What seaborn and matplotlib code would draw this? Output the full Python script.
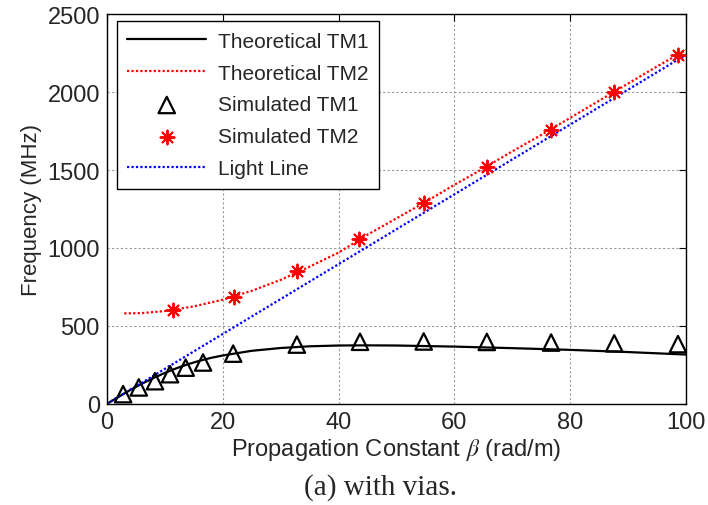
import matplotlib
matplotlib.use("Agg")
import matplotlib.pyplot as plt
import numpy as np
import pandas as pd
import seaborn as sns

# theoretical TM1
tm1_beta = [0, 2, 4, 6, 8, 10, 12, 14, 16, 18, 20, 25, 30, 35, 40, 45, 50, 60, 70, 80, 90, 100]
tm1_freq = [0, 44, 88, 128, 165, 198, 228, 254, 276, 295, 310, 340, 358, 369, 374, 375, 374, 367, 357, 346, 332, 316]

# theoretical TM2
tm2_beta = [3, 6, 10, 15, 20, 25, 30, 35, 40, 45, 50, 55, 60, 65, 70, 75, 80, 85, 90, 95, 100]
tm2_freq = [580, 582, 595, 625, 668, 725, 795, 880, 970, 1085, 1190, 1295, 1405, 1510, 1620, 1725, 1835, 1945, 2055, 2165, 2270]

# simulated points
sim1_beta = [2.8, 5.5, 8.3, 10.9, 13.6, 16.6, 21.8, 32.8, 43.7, 54.7, 65.6, 76.7, 87.6, 98.6]
sim1_freq = [62, 105, 145, 190, 232, 265, 322, 380, 398, 400, 397, 393, 388, 383]

sim2_beta = [11.4, 22.0, 32.8, 43.5, 54.7, 65.6, 76.7, 87.6, 98.6]
sim2_freq = [600, 684, 853, 1058, 1288, 1519, 1756, 2000, 2237]

light_beta = [0, 100]
light_freq = [0, 2240]

sns.set_style("white")
plt.rcParams["font.family"] = ["Liberation Sans", "DejaVu Sans"]
plt.rcParams["mathtext.fontset"] = "stix"

fig = plt.figure(figsize=(7.08, 5.06), dpi=100)
ax = fig.add_axes([0.151, 0.200, 0.818, 0.770])

sns.lineplot(x=tm1_beta, y=tm1_freq, ax=ax, color="black", linewidth=1.6,
             label="Theoretical TM1")
sns.lineplot(x=tm2_beta, y=tm2_freq, ax=ax, color="red", linewidth=1.6,
             linestyle=(0, (1, 1)), label="Theoretical TM2")
sns.scatterplot(x=sim1_beta, y=sim1_freq, ax=ax, marker="^", s=140,
                facecolor="none", edgecolor="black", linewidth=1.6,
                label="Simulated TM1", zorder=5)
sns.scatterplot(x=sim2_beta, y=sim2_freq, ax=ax, marker=(8, 2, 0), s=100,
                color="red", edgecolor="red", linewidth=1.4,
                label="Simulated TM2", zorder=5)
sns.lineplot(x=light_beta, y=light_freq, ax=ax, color="blue", linewidth=1.6,
             linestyle=(0, (1, 1)), label="Light Line")

ax.set_xlim(0, 100)
ax.set_ylim(0, 2500)
ax.set_xticks(np.arange(0, 101, 20))
ax.set_yticks(np.arange(0, 2501, 500))
ax.grid(True, linestyle=(0, (2, 2)), color="#9a9a9a", linewidth=0.8)
ax.tick_params(direction="in", labelsize=17, length=5, top=True, right=True,
               color="black", pad=5)
for s in ax.spines.values():
    s.set_color("black")
    s.set_linewidth(1.0)

ax.set_xlabel(r"Propagation Constant $\beta$ (rad/m)", fontsize=17, labelpad=2)
ax.set_ylabel("Frequency (MHz)", fontsize=16, labelpad=4)

leg = ax.legend(loc="upper left", bbox_to_anchor=(0.017, 0.982), fontsize=15,
                frameon=True, fancybox=False, edgecolor="black", framealpha=1,
                handlelength=3.8, handletextpad=0.55, borderpad=0.5,
                labelspacing=0.62, borderaxespad=0)
leg.get_frame().set_linewidth(1.0)

fig.text(0.538, 0.036, "(a) with vias.", ha="center", va="center",
         fontsize=21, family="Liberation Serif")

fig.savefig("out.png", dpi=100)
